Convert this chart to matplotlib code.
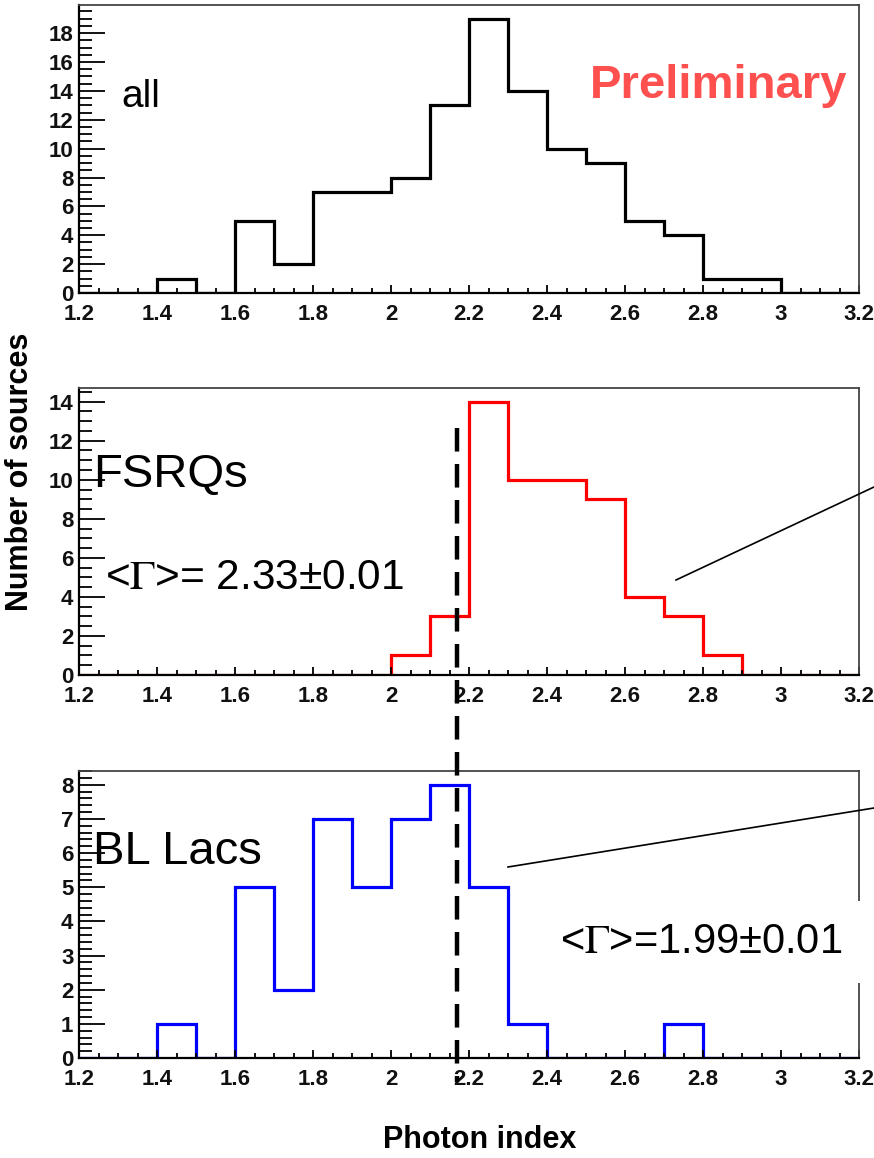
import numpy as np
import matplotlib
matplotlib.use("Agg")
import matplotlib.pyplot as plt
from matplotlib.lines import Line2D
from matplotlib.ticker import MultipleLocator, FuncFormatter
import matplotlib.transforms as mtransforms

plt.rcParams["font.family"] = ["Liberation Sans", "DejaVu Sans"]
plt.rcParams["mathtext.fontset"] = "stix"

# photon index bins, 0.1 wide
edges = np.linspace(1.2, 3.2, 21)

all_counts = [0, 0, 1, 0, 5, 2, 7, 7, 8, 13, 19, 14, 10, 9, 5, 4, 1, 1, 0, 0]
fsrq_counts = [0, 0, 0, 0, 0, 0, 0, 0, 1, 3, 14, 10, 10, 9, 4, 3, 1, 0, 0, 0]
bllac_counts = [0, 0, 1, 0, 5, 2, 7, 5, 7, 8, 5, 1, 0, 0, 0, 1, 0, 0, 0, 0]

labels = ["all", "FSRQs", "BL Lacs"]
colors = ["black", "#ff0000", "#0000ff"]
y_major = [2, 2, 1]
y_minor = [0.5, 0.5, 0.2]

divide_index = 2.17
fsrq_mean = "2.33\u00b10.01"
bllac_mean = "1.99\u00b10.01"

W, H = 874, 1158
fig = plt.figure(figsize=(W / 100, H / 100), dpi=100)


def px_axes(top, bottom, left=79, right=859):
    return fig.add_axes([left / W, 1 - bottom / H, (right - left) / W, (bottom - top) / H])


def fx(x):
    return x / W


def fy(y):
    return 1 - y / H


axes = [px_axes(5, 293), px_axes(388, 675), px_axes(771, 1058)]
data = [all_counts, fsrq_counts, bllac_counts]

fmt = FuncFormatter(lambda v, p: f"{v:g}")

for ax, counts, col, maj, mnr in zip(axes, data, colors, y_major, y_minor):
    counts = np.array(counts)
    ax.stairs(counts, edges, color=col, lw=2.3, baseline=0)
    ax.set_xlim(1.2, 3.2)
    ax.set_ylim(0, 1.05 * counts.max())
    ax.xaxis.set_major_locator(MultipleLocator(0.2))
    ax.xaxis.set_minor_locator(MultipleLocator(0.05))
    ax.yaxis.set_major_locator(MultipleLocator(maj))
    ax.yaxis.set_minor_locator(MultipleLocator(mnr))
    ax.xaxis.set_major_formatter(fmt)
    ax.yaxis.set_major_formatter(fmt)
    ax.tick_params(axis="both", which="both", direction="in", top=False, right=False,
                   color="black", width=1.3)
    ax.tick_params(axis="y", which="major", length=18.5, pad=4)
    ax.tick_params(axis="y", which="minor", length=9)
    ax.tick_params(axis="x", which="major", length=6, pad=8)
    ax.tick_params(axis="x", which="minor", length=3.5)
    for lab in ax.get_xticklabels() + ax.get_yticklabels():
        lab.set_fontweight("bold")
        lab.set_fontsize(16)
        lab.set_color("#111111")
    for side in ["top", "right"]:
        ax.spines[side].set_color("#444444")
        ax.spines[side].set_linewidth(1.3)
    for side in ["left", "bottom"]:
        ax.spines[side].set_color("black")
        ax.spines[side].set_linewidth(1.6)

ax1, ax2, ax3 = axes

# panel names
fig.text(fx(121), fy(107), labels[0], fontsize=28)
fig.text(fx(93), fy(487), labels[1], fontsize=34)
fig.text(fx(93), fy(864), labels[2], fontsize=34)

fig.text(fx(847), fy(86), "Preliminary", fontsize=34, fontweight="bold",
         color="#ff5050", ha="right", va="center")

fig.text(fx(105), fy(578), r"<$\mathrm{\Gamma}$>= " + fsrq_mean, fontsize=30.5,
         va="center")
fig.text(fx(560), fy(942), r"<$\mathrm{\Gamma}$>=" + bllac_mean, fontsize=30,
         va="center", zorder=10,
         bbox=dict(facecolor="white", edgecolor="none", pad=15))

# pointer lines going off to the right
fig.add_artist(Line2D([fx(676), 1.0], [fy(580), fy(487)],
                      transform=fig.transFigure, color="black", lw=1.2))
fig.add_artist(Line2D([fx(508), 1.0], [fy(867), fy(808)],
                      transform=fig.transFigure, color="black", lw=1.2))

# dividing index between the two classes
trans = mtransforms.blended_transform_factory(ax3.transData, fig.transFigure)
fig.add_artist(Line2D([divide_index, divide_index], [fy(428), fy(1082)],
                      transform=trans, color="black", lw=3.2,
                      dashes=(5.3, 2.8), zorder=20))

fig.text(fx(20), fy(472), "Number of sources", rotation=90, fontsize=22,
         fontweight="bold", ha="center", va="center")
fig.text(fx(480), fy(1140), "Photon index", fontsize=22, fontweight="bold",
         ha="center", va="center")

fig.savefig("out.png", dpi=100)
